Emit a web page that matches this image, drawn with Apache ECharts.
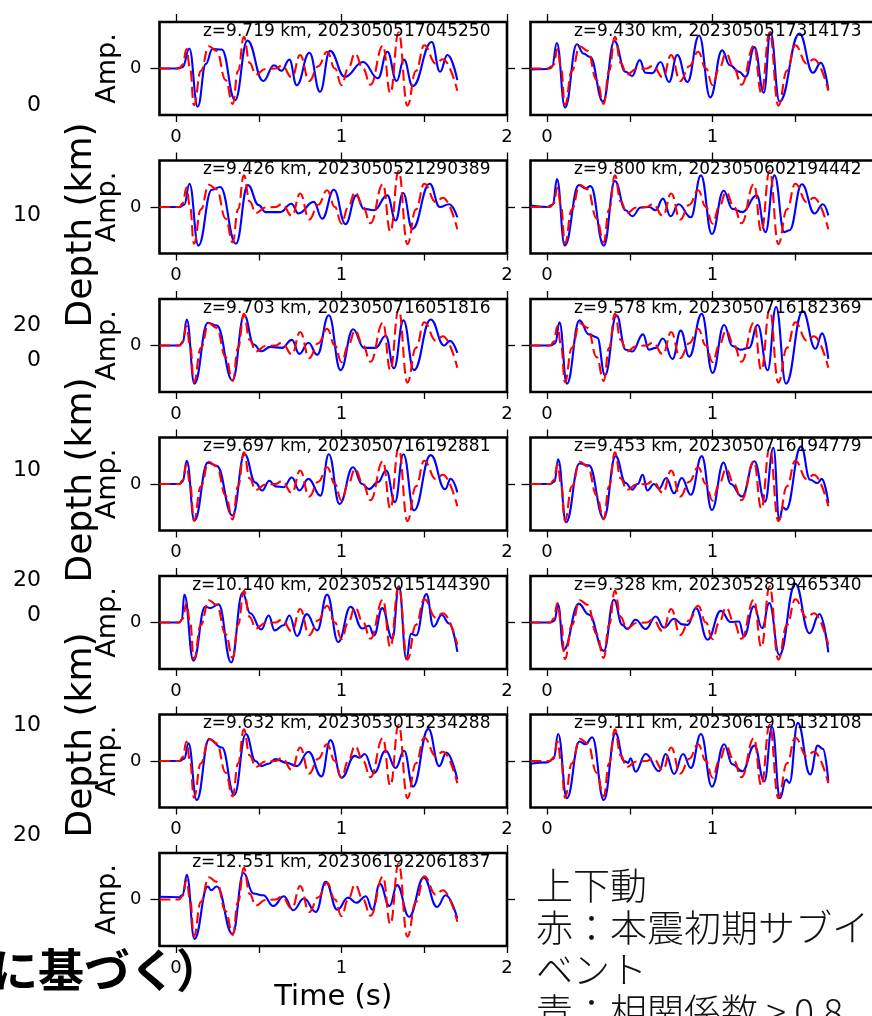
<!DOCTYPE html>
<html><head><meta charset="utf-8">
<script src="https://cdn.jsdelivr.net/npm/echarts@6/dist/echarts.min.js"></script>
<style>html,body{margin:0;padding:0;background:#fff}#c{width:872px;height:1016px}</style>
</head><body><div id="c"></div>
<script>
// ---------- data ----------
const xTickValues = [0, 0.5, 1, 1.5, 2];
const xLabelValues = [0, 1, 2];
const xTopTickValues = [0, 1, 2];
const yTickValues = [0];

const panelTitles = [
  'z=9.719 km, 2023050517045250', 'z=9.430 km, 2023050517314173',
  'z=9.426 km, 2023050521290389', 'z=9.800 km, 2023050602194442',
  'z=9.703 km, 2023050716051816', 'z=9.578 km, 2023050716182369',
  'z=9.697 km, 2023050716192881', 'z=9.453 km, 2023050716194779',
  'z=10.140 km, 2023052015144390', 'z=9.328 km, 2023052819465340',
  'z=9.632 km, 2023053013234288', 'z=9.111 km, 2023061915132108',
  'z=12.551 km, 2023061922061837'
];

// red: mainshock initial subevent (same in every panel)
const redWave = [[-0.1,0],[0.02,0],[0.04,0.08],[0.063,0.42],[0.085,0.0],[0.108,-0.79],[0.15,-0.05],[0.198,0.48],[0.245,0.38],[0.30,-0.25],[0.342,-0.76],[0.375,-0.05],[0.41,0.68],[0.445,0.12],[0.482,-0.13],[0.54,-0.01],[0.6,0.0],[0.64,0.06],[0.70,-0.19],[0.75,0.29],[0.805,-0.27],[0.86,0.05],[0.913,0.36],[0.96,0.0],[1.0,-0.36],[1.04,0.0],[1.082,0.32],[1.13,0.0],[1.175,-0.35],[1.25,0.49],[1.295,-0.53],[1.345,0.78],[1.398,-0.8],[1.45,-0.05],[1.5,0.5],[1.57,0.1],[1.612,0.2],[1.70,-0.48]];

// blue: events with correlation > 0.8
const blue0 = [[-0.1,0],[0.0,0],[0.04,0.03],[0.08,0.43],[0.131,-0.82],[0.18,0.1],[0.22,0.42],[0.276,0.41],[0.357,-0.68],[0.431,0.6],[0.527,-0.27],[0.592,0.07],[0.638,-0.05],[0.685,0.19],[0.729,-0.36],[0.806,0.34],[0.87,-0.5],[0.93,0.38],[1.02,-0.18],[1.13,0.14],[1.22,-0.21],[1.277,0.36],[1.333,-0.27],[1.377,0.19],[1.43,-0.38],[1.545,0.57],[1.595,-0.07],[1.64,0.29],[1.70,-0.25]];
const blue1 = [[-0.1,-0.02],[0.0,-0.01],[0.03,0.04],[0.059,0.55],[0.109,-0.84],[0.18,0.52],[0.22,0.32],[0.26,0.25],[0.338,-0.71],[0.407,0.59],[0.474,-0.07],[0.514,-0.16],[0.56,0.18],[0.595,-0.09],[0.636,-0.1],[0.686,0.14],[0.737,-0.29],[0.787,0.29],[0.848,-0.29],[0.919,0.71],[0.986,-0.62],[1.058,0.39],[1.105,0.07],[1.16,-0.07],[1.2,-0.18],[1.253,0.46],[1.31,-0.52],[1.35,0.78],[1.405,-0.71],[1.525,0.75],[1.607,-0.09],[1.655,0.12],[1.70,-0.46]];
const blue2 = [[-0.1,0],[0.02,0],[0.05,0.05],[0.081,0.5],[0.135,-0.83],[0.216,0.37],[0.267,0.43],[0.362,-0.79],[0.434,0.47],[0.5,0.04],[0.54,-0.11],[0.63,-0.11],[0.697,0.07],[0.74,-0.14],[0.832,0.11],[0.883,-0.25],[0.954,0.37],[1.024,-0.37],[1.09,0.25],[1.135,-0.04],[1.196,-0.07],[1.277,0.25],[1.327,-0.29],[1.372,0.3],[1.428,-0.47],[1.533,0.5],[1.594,0.0],[1.65,0.06],[1.70,-0.22]];
const blue3 = [[-0.1,0.03],[0.0,0],[0.035,0.05],[0.06,0.6],[0.107,-0.83],[0.192,0.47],[0.232,0.4],[0.263,0.45],[0.343,-0.83],[0.41,0.56],[0.475,-0.07],[0.515,-0.2],[0.566,-0.01],[0.616,0.0],[0.657,-0.07],[0.7,0.18],[0.747,-0.2],[0.794,0.06],[0.869,-0.22],[0.93,0.68],[0.996,-0.58],[1.067,0.35],[1.12,-0.04],[1.18,-0.11],[1.267,0.25],[1.32,-0.54],[1.374,0.68],[1.434,-0.54],[1.465,-0.5],[1.54,0.49],[1.616,-0.14],[1.667,0.06],[1.70,-0.18]];
const blue4 = [[-0.1,0],[0.02,0],[0.04,0.06],[0.065,0.56],[0.111,-0.82],[0.192,0.49],[0.246,0.43],[0.341,-0.75],[0.412,0.65],[0.47,0.02],[0.515,-0.125],[0.57,-0.03],[0.64,-0.05],[0.70,0.12],[0.745,-0.18],[0.80,0.06],[0.853,-0.2],[0.923,0.65],[0.994,-0.53],[1.07,0.35],[1.135,-0.05],[1.206,-0.05],[1.267,0.21],[1.317,-0.49],[1.374,0.54],[1.438,-0.53],[1.539,0.56],[1.62,0.0],[1.655,0.1],[1.70,-0.16]];
const blue5 = [[-0.1,0],[0.02,0],[0.05,0.05],[0.075,0.5],[0.12,-0.82],[0.196,0.54],[0.253,0.24],[0.303,0.17],[0.35,-0.64],[0.42,0.65],[0.475,-0.09],[0.515,-0.13],[0.58,0.24],[0.616,-0.09],[0.657,-0.05],[0.7,0.15],[0.758,-0.29],[0.808,0.32],[0.859,-0.24],[0.935,0.68],[1.0,-0.59],[1.07,0.44],[1.12,-0.01],[1.17,-0.09],[1.22,-0.05],[1.273,0.44],[1.333,-0.53],[1.384,0.83],[1.444,-0.82],[1.545,0.74],[1.622,-0.07],[1.663,0.26],[1.70,-0.29]];
const blue6 = [[-0.1,0],[0.02,0],[0.04,0.05],[0.065,0.5],[0.111,-0.79],[0.192,0.46],[0.246,0.39],[0.341,-0.68],[0.414,0.64],[0.48,0.03],[0.52,-0.14],[0.564,0.07],[0.6,-0.05],[0.65,-0.07],[0.70,0.14],[0.745,-0.14],[0.80,0.11],[0.873,-0.25],[0.923,0.64],[0.988,-0.43],[1.069,0.36],[1.125,0.0],[1.166,-0.11],[1.22,0.04],[1.27,0.29],[1.323,-0.39],[1.374,0.64],[1.438,-0.57],[1.539,0.62],[1.626,-0.11],[1.66,0.11],[1.70,-0.18]];
const blue7 = [[-0.1,0],[0.02,0],[0.045,0.05],[0.067,0.53],[0.115,-0.82],[0.196,0.44],[0.253,0.4],[0.343,-0.74],[0.414,0.6],[0.475,0.02],[0.515,-0.12],[0.548,0.0],[0.578,0.2],[0.606,-0.14],[0.646,0.0],[0.677,-0.1],[0.72,0.13],[0.768,-0.2],[0.814,0.13],[0.869,-0.23],[0.935,0.6],[0.996,-0.56],[1.067,0.46],[1.11,0.0],[1.178,-0.27],[1.253,0.49],[1.317,-0.38],[1.368,0.78],[1.404,-0.77],[1.425,-0.5],[1.444,-0.55],[1.535,0.81],[1.59,0.09],[1.634,0.02],[1.66,0.11],[1.70,-0.41]];
const blue8 = [[-0.1,0],[0.02,0],[0.035,0.06],[0.05,0.6],[0.105,-0.82],[0.176,0.34],[0.206,0.31],[0.257,0.39],[0.333,-0.86],[0.402,0.64],[0.448,0.2],[0.515,-0.15],[0.56,0.15],[0.596,-0.17],[0.65,-0.06],[0.685,0.15],[0.731,-0.29],[0.79,0.18],[0.853,-0.17],[0.913,0.6],[0.98,-0.42],[1.055,0.34],[1.125,-0.13],[1.166,-0.07],[1.196,-0.28],[1.246,0.31],[1.307,-0.35],[1.347,0.78],[1.392,-0.79],[1.42,-0.24],[1.45,-0.28],[1.513,0.61],[1.556,-0.09],[1.606,0.16],[1.65,-0.02],[1.70,-0.63]];
const blue9 = [[-0.1,0],[0.02,0],[0.045,0.04],[0.067,0.38],[0.1,-0.59],[0.192,0.4],[0.253,0.17],[0.343,-0.61],[0.404,0.49],[0.455,-0.05],[0.485,-0.14],[0.535,0.06],[0.596,-0.14],[0.657,0.13],[0.707,-0.11],[0.768,0.08],[0.818,-0.04],[0.85,-0.05],[0.9,0.31],[0.97,-0.37],[1.05,0.25],[1.11,0.01],[1.16,0.02],[1.19,-0.3],[1.25,0.35],[1.3,-0.12],[1.343,0.42],[1.404,-0.7],[1.5,0.83],[1.586,-0.23],[1.646,0.18],[1.70,-0.64]];
const blue10 = [[-0.1,0],[0.02,0],[0.05,0.05],[0.075,0.38],[0.125,-0.84],[0.2,0.47],[0.277,0.29],[0.352,-0.73],[0.422,0.58],[0.48,0.0],[0.515,-0.11],[0.56,-0.06],[0.6,0.04],[0.67,-0.04],[0.73,-0.11],[0.80,0.2],[0.879,-0.33],[0.933,0.45],[1.0,-0.36],[1.08,0.11],[1.11,0.07],[1.14,0.15],[1.196,-0.26],[1.267,0.22],[1.327,-0.15],[1.378,0.22],[1.432,-0.55],[1.525,0.69],[1.59,-0.11],[1.634,0.18],[1.70,-0.4]];
const blue11 = [[-0.1,-0.06],[0.0,-0.03],[0.04,0.05],[0.067,0.58],[0.12,-0.8],[0.196,0.42],[0.232,0.36],[0.273,0.51],[0.343,-0.84],[0.414,0.6],[0.465,0.0],[0.49,-0.04],[0.505,0.06],[0.535,-0.23],[0.596,0.15],[0.677,-0.22],[0.717,0.15],[0.768,-0.28],[0.822,0.15],[0.869,-0.15],[0.93,0.58],[0.996,-0.55],[1.07,0.36],[1.12,-0.07],[1.18,-0.22],[1.253,0.33],[1.313,-0.44],[1.36,0.73],[1.408,-0.8],[1.444,-0.4],[1.465,-0.47],[1.515,0.82],[1.59,-0.29],[1.636,0.33],[1.667,0.26],[1.70,-0.44]];
const blue12 = [[-0.1,0.06],[0.02,0.05],[0.04,0.1],[0.065,0.53],[0.111,-0.85],[0.192,0.28],[0.212,0.2],[0.246,0.28],[0.341,-0.74],[0.408,0.57],[0.467,0.13],[0.527,0.09],[0.588,-0.14],[0.652,0.07],[0.708,-0.23],[0.773,0.02],[0.845,-0.27],[0.905,0.38],[0.974,-0.22],[1.04,0.04],[1.09,-0.07],[1.147,0.07],[1.187,-0.22],[1.231,0.34],[1.29,-0.14],[1.336,0.31],[1.408,-0.37],[1.497,0.47],[1.577,-0.16],[1.63,0.09],[1.70,-0.41]];
const blueWaves = [blue0,blue1,blue2,blue3,blue4,blue5,blue6,blue7,blue8,blue9,blue10,blue11,blue12];

const depthTickLabels = ['0', '10', '20'];
const noteLines = ['上下動', '赤：本震初期サブイ', 'ベント', '青：相関係数 > 0.8'];
const cutText = 'に基づく）';

// ---------- layout ----------
const FONT = 'DejaVu Sans';
const W = 347.5, H = 93, ROW = 138.5, TOP0 = 22;
const LEFTS = [159.5, 530.5];
const grids = [], xAxes = [], yAxes = [], series = [], graphics = [];
const tickStyle = {color: '#000', width: 1.3};

blueWaves.forEach((b, i) => {
  const col = i % 2, row = Math.floor(i / 2);
  const left = LEFTS[col], top = TOP0 + row * ROW;
  grids.push({left, top, width: W, height: H, show: true, borderColor: '#000', borderWidth: 2.6,
    backgroundColor: 'transparent', containLabel: false, outerBoundsMode: 'none'});
  const xb = {
    gridIndex: i, type: 'value', min: -0.1, max: 2.0, position: 'bottom',
    axisLine: {show: false, onZero: false}, splitLine: {show: false},
    axisTick: {show: true, customValues: xTickValues, length: 7, lineStyle: tickStyle},
    axisLabel: {customValues: xLabelValues, margin: 13, fontSize: 18, fontFamily: FONT, color: '#000'}
  };
  if (i === 12) {
    Object.assign(xb, {name: 'Time (s)', nameLocation: 'middle', nameGap: 37,
      nameTextStyle: {fontSize: 29, fontFamily: FONT, color: '#000'}});
  }
  xAxes.push(xb);
  xAxes.push({
    gridIndex: i, type: 'value', min: -0.1, max: 2.0, position: 'top',
    axisLine: {show: false, onZero: false}, splitLine: {show: false},
    axisTick: {show: true, customValues: xTopTickValues, length: 8, lineStyle: tickStyle},
    axisLabel: {show: false}
  });
  const yl = {
    gridIndex: i, type: 'value', min: -1, max: 1, position: 'left',
    axisLine: {show: false, onZero: false}, splitLine: {show: false},
    axisTick: {show: true, customValues: yTickValues, length: 9, lineStyle: tickStyle},
    axisLabel: {show: col === 0, customValues: yTickValues, margin: 18, fontSize: 18, fontFamily: FONT, color: '#000'}
  };
  if (col === 0) {
    Object.assign(yl, {name: 'Amp.', nameLocation: 'middle', nameRotate: 90, nameGap: 38,
      nameTextStyle: {fontSize: 27, fontFamily: FONT, color: '#000'}});
  }
  yAxes.push(yl);
  yAxes.push({
    gridIndex: i, type: 'value', min: -1, max: 1, position: 'right',
    axisLine: {show: false, onZero: false}, splitLine: {show: false},
    axisTick: {show: true, customValues: yTickValues, length: 8, lineStyle: tickStyle},
    axisLabel: {show: false}
  });
  series.push({
    type: 'line', xAxisIndex: 2 * i, yAxisIndex: 2 * i, data: b,
    smooth: 0.45, smoothMonotone: 'x', showSymbol: false, z: 2,
    lineStyle: {color: '#0000ff', width: 2.1}
  });
  series.push({
    type: 'line', xAxisIndex: 2 * i, yAxisIndex: 2 * i, data: redWave,
    smooth: 0.45, smoothMonotone: 'x', showSymbol: false, z: 3,
    lineStyle: {color: '#ff0000', width: 2.1, type: [11, 5]}
  });
  // panel title, right aligned near t = 1.9
  graphics.push({
    type: 'text', x: left + 2.0 * W / 2.1, y: top + 1, z: 10,
    style: {text: panelTitles[i], fontSize: 17, fontFamily: FONT, fill: '#000',
      textAlign: 'right', textVerticalAlign: 'top', align: 'right', verticalAlign: 'top'}
  });
});

// background overlay from another figure (left margin)
[105, 360, 615].forEach((y0) => {
  depthTickLabels.forEach((t, k) => {
    graphics.push({type: 'text', x: 41, y: y0 + k * 110,
      style: {text: t, fontSize: 22, fontFamily: FONT, fill: '#000',
        textAlign: 'right', textVerticalAlign: 'middle', align: 'right', verticalAlign: 'middle'}});
  });
});
[225, 480, 735].forEach((yc) => {
  graphics.push({type: 'text', x: 82, y: yc, rotation: Math.PI / 2,
    style: {text: 'Depth (km)', fontSize: 36, fontFamily: FONT, fill: '#000',
      textAlign: 'center', textVerticalAlign: 'middle', align: 'center', verticalAlign: 'middle'}});
});
graphics.push({type: 'text', x: -8, y: 970,
  style: {text: cutText, fontSize: 46, fontWeight: 'bold', fontFamily: '"Noto Sans CJK JP"', fill: '#000',
    textAlign: 'left', textVerticalAlign: 'middle', align: 'left', verticalAlign: 'middle'}});
noteLines.forEach((t, k) => {
  graphics.push({type: 'text', x: 536, y: 886 + k * 42,
    style: {text: t, fontSize: 37, fontWeight: 300, fontFamily: '"Noto Sans CJK JP"', fill: '#111',
      textAlign: 'left', textVerticalAlign: 'middle', align: 'left', verticalAlign: 'middle'}});
});

const chart = echarts.init(document.getElementById('c'), null, {width: 872, height: 1016});
chart.setOption({
  animation: false,
  backgroundColor: '#fff',
  grid: grids, xAxis: xAxes, yAxis: yAxes, series: series,
  graphic: {elements: graphics}
});
</script></body></html>
